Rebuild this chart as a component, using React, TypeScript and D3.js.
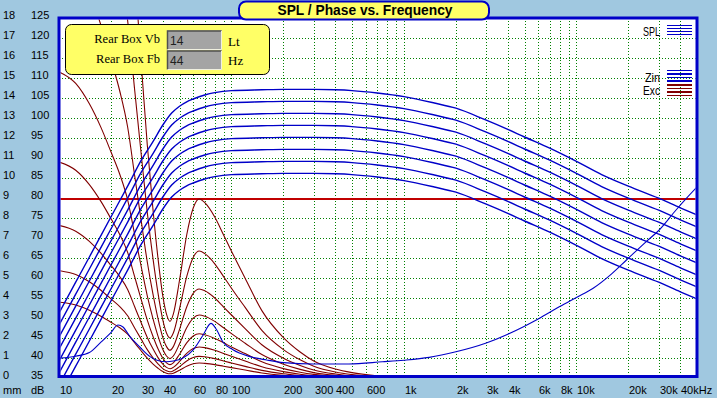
import React from 'react';
import * as d3 from 'd3';

// ---------- DATA ----------
const splFreq = [10, 12.5, 15, 20, 25, 30, 35, 40, 45, 50, 55, 60, 70, 80, 100, 150, 200, 300, 400, 500, 700, 1000, 1500, 2000, 3000, 4000, 5000, 7000, 10000, 14000, 20000, 30000, 40000, 50000];
const spl0 = [51.5, 59.2, 65.5, 75.5, 83.2, 89.7, 94.3, 98.5, 101.5, 103.2, 104.3, 105.0, 106.0, 106.6, 107.1, 107.3, 107.4, 107.4, 107.3, 107.1, 106.5, 105.6, 104.0, 102.7, 99.7, 97.4, 95.5, 92.7, 89.4, 86.1, 83.2, 80.2, 77.8, 76.0];
const spl1 = [48.5, 56.2, 62.5, 72.5, 80.2, 86.7, 91.3, 95.5, 98.5, 100.2, 101.3, 102.0, 103.0, 103.6, 104.1, 104.3, 104.4, 104.4, 104.3, 104.1, 103.5, 102.6, 101.0, 99.7, 96.7, 94.4, 92.5, 89.7, 86.4, 83.1, 80.2, 77.2, 74.8, 73.0];
const spl2 = [45.5, 53.2, 59.5, 69.5, 77.2, 83.7, 88.3, 92.5, 95.5, 97.2, 98.3, 99.0, 100.0, 100.6, 101.1, 101.3, 101.4, 101.4, 101.3, 101.1, 100.5, 99.6, 98.0, 96.7, 93.7, 91.4, 89.5, 86.7, 83.4, 80.1, 77.2, 74.2, 71.8, 70.0];
const spl3 = [42.5, 50.2, 56.5, 66.5, 74.2, 80.7, 85.3, 89.5, 92.5, 94.2, 95.3, 96.0, 97.0, 97.6, 98.1, 98.3, 98.4, 98.4, 98.3, 98.1, 97.5, 96.6, 95.0, 93.7, 90.7, 88.4, 86.5, 83.7, 80.4, 77.1, 74.2, 71.2, 68.8, 67.0];
const spl4 = [39.5, 47.2, 53.5, 63.5, 71.2, 77.7, 82.3, 86.5, 89.5, 91.2, 92.3, 93.0, 94.0, 94.6, 95.1, 95.3, 95.4, 95.4, 95.3, 95.1, 94.5, 93.6, 92.0, 90.7, 87.7, 85.4, 83.5, 80.7, 77.4, 74.1, 71.2, 68.2, 65.8, 64.0];
const spl5 = [36.5, 44.2, 50.5, 60.5, 68.2, 74.7, 79.3, 83.5, 86.5, 88.2, 89.3, 90.0, 91.0, 91.6, 92.1, 92.3, 92.4, 92.4, 92.3, 92.1, 91.5, 90.6, 89.0, 87.7, 84.7, 82.4, 80.5, 77.7, 74.4, 71.1, 68.2, 65.2, 62.8, 61.0];
const spl6 = [33.5, 41.2, 47.5, 57.5, 65.2, 71.7, 76.3, 80.5, 83.5, 85.2, 86.3, 87.0, 88.0, 88.6, 89.1, 89.3, 89.4, 89.4, 89.3, 89.1, 88.5, 87.6, 86.0, 84.7, 81.7, 79.4, 77.5, 74.7, 71.4, 68.1, 65.2, 62.2, 59.8, 58.0];
const spl7 = [30.5, 38.2, 44.5, 54.5, 62.2, 68.7, 73.3, 77.5, 80.5, 82.2, 83.3, 84.0, 85.0, 85.6, 86.1, 86.3, 86.4, 86.4, 86.3, 86.1, 85.5, 84.6, 83.0, 81.7, 78.7, 76.4, 74.5, 71.7, 68.4, 65.1, 62.2, 59.2, 56.8, 55.0];
const splSeries = [spl0, spl1, spl2, spl3, spl4, spl5, spl6, spl7];

const zinFreq = [10, 12.5, 15, 17.5, 20, 22, 23.5, 25.8, 29.4, 33.7, 37, 42, 46, 52, 60, 68.5, 76, 82, 89, 102, 128, 160, 200, 300, 480, 750, 1000, 1400, 2000, 3000, 4000, 5000, 6000, 8000, 10000, 12500, 16000, 19500, 25300, 30200, 37800, 43500, 50000];
const zinVal = [40.2, 40.7, 41.6, 44.2, 46.6, 48.5, 48.0, 45.6, 43.0, 40.6, 39.7, 39.3, 39.5, 40.2, 42.3, 46.0, 48.9, 47.3, 44.3, 42.3, 40.6, 39.75, 39.1, 38.75, 38.75, 39.3, 39.7, 40.4, 41.8, 44.0, 46.2, 48.2, 50.0, 53.1, 55.4, 57.7, 61.3, 64.75, 69.3, 72.25, 77.25, 80.2, 83.0];

// excursion in mm
const excFreq = [10, 12.5, 15, 17.5, 20, 22.5, 25, 27.5, 30, 32.5, 35, 37.5, 40, 42, 44, 46, 50, 55, 60, 65, 70, 80, 90, 100, 120, 150, 200, 250, 300, 400, 500, 700, 1000, 2000];
const exc0 = [3.84, 3.70, 3.44, 3.14, 2.84, 2.56, 2.24, 1.80, 1.40, 1.04, 0.76, 0.54, 0.37, 0.29, 0.26, 0.29, 0.44, 0.64, 0.76, 0.80, 0.78, 0.72, 0.64, 0.57, 0.45, 0.30, 0.18, 0.12, 0.08, 0.04, 0.03, 0.01, 0.01, 0.00];
const exc1 = [5.42, 5.22, 4.86, 4.44, 4.01, 3.62, 3.16, 2.54, 1.98, 1.47, 1.07, 0.76, 0.52, 0.41, 0.36, 0.41, 0.62, 0.90, 1.07, 1.13, 1.11, 1.02, 0.90, 0.80, 0.63, 0.43, 0.26, 0.17, 0.11, 0.06, 0.04, 0.02, 0.01, 0.00];
const exc2 = [7.68, 7.39, 6.88, 6.29, 5.68, 5.12, 4.48, 3.60, 2.80, 2.08, 1.52, 1.07, 0.74, 0.58, 0.51, 0.58, 0.88, 1.28, 1.52, 1.60, 1.57, 1.44, 1.28, 1.14, 0.90, 0.61, 0.37, 0.24, 0.16, 0.09, 0.06, 0.03, 0.01, 0.00];
const exc3 = [10.85, 10.44, 9.72, 8.88, 8.02, 7.23, 6.33, 5.09, 3.96, 2.94, 2.15, 1.51, 1.04, 0.81, 0.72, 0.81, 1.24, 1.81, 2.15, 2.26, 2.21, 2.03, 1.81, 1.60, 1.27, 0.86, 0.52, 0.34, 0.23, 0.12, 0.08, 0.04, 0.02, 0.00];
const exc4 = [15.36, 14.78, 13.76, 12.58, 11.36, 10.24, 8.96, 7.20, 5.60, 4.16, 3.04, 2.14, 1.47, 1.15, 1.02, 1.15, 1.76, 2.56, 3.04, 3.20, 3.14, 2.88, 2.56, 2.27, 1.79, 1.22, 0.74, 0.48, 0.32, 0.18, 0.11, 0.06, 0.03, 0.01];
const exc5 = [21.6, 20.79, 19.35, 17.69, 15.98, 14.4, 12.6, 10.13, 7.88, 5.85, 4.28, 3.02, 2.07, 1.62, 1.44, 1.62, 2.48, 3.6, 4.28, 4.5, 4.41, 4.05, 3.6, 3.2, 2.52, 1.71, 1.04, 0.68, 0.45, 0.25, 0.16, 0.08, 0.04, 0.01];
const exc6 = [30.72, 29.57, 27.52, 25.15, 22.72, 20.48, 17.92, 14.4, 11.2, 8.32, 6.08, 4.29, 2.94, 2.30, 2.05, 2.30, 3.52, 5.12, 6.08, 6.4, 6.27, 5.76, 5.12, 4.54, 3.58, 2.43, 1.47, 0.96, 0.64, 0.35, 0.22, 0.12, 0.06, 0.01];
const exc7 = [43.2, 41.58, 38.7, 35.37, 31.95, 28.8, 25.2, 20.25, 15.75, 11.7, 8.55, 6.03, 4.14, 3.24, 2.88, 3.24, 4.95, 7.2, 8.55, 9.0, 8.82, 8.1, 7.2, 6.39, 5.04, 3.42, 2.07, 1.35, 0.9, 0.5, 0.32, 0.16, 0.08, 0.02];
const excSeries = [exc0, exc1, exc2, exc3, exc4, exc5, exc6, exc7];

const xmaxMm = 9; // red horizontal line

const gridFreqs = [20, 30, 40, 50, 60, 70, 80, 90, 100, 200, 300, 400, 500, 600, 700, 800, 900, 1000, 2000, 3000, 4000, 5000, 6000, 7000, 8000, 9000, 10000, 20000, 30000, 40000];
const xLabelFreqs = [10, 20, 30, 40, 60, 80, 100, 200, 300, 400, 600, 1000, 2000, 3000, 4000, 6000, 8000, 10000, 20000, 30000, 40000];
const xLabelTexts = ['10', '20', '30', '40', '60', '80', '100', '200', '300', '400', '600', '1k', '2k', '3k', '4k', '6k', '8k', '10k', '20k', '30k', '40kHz'];
const dbTicks = [35, 40, 45, 50, 55, 60, 65, 70, 75, 80, 85, 90, 95, 100, 105, 110, 115, 120, 125];
const mmTicks = [0, 1, 2, 3, 4, 5, 6, 7, 8, 9, 10, 11, 12, 13, 14, 15, 16, 17, 18];

const title = 'SPL / Phase vs. Frequency';
const boxLabels = ['Rear Box Vb', 'Rear Box Fb'];
const boxValues = ['14', '44'];
const boxUnits = ['Lt', 'Hz'];

// ---------- STYLE ----------
const BG = '#A0C8E0';
const BLUE = '#0000C8';
const DARKRED = '#800000';
const GREEN = '#008000';
const YELLOW = '#FFFF66';
const SANS = 'Liberation Sans, Arial, sans-serif';
const SERIF = 'Liberation Serif, Times New Roman, serif';

export default function App() {
  const L = 59, R = 697, T = 18, B = 376.5;
  const x = d3.scaleLog().domain([10, 50000]).range([L, R]);
  const y = d3.scaleLinear().domain([35, 125]).range([379, 19]);
  const ymm = d3.scaleLinear().domain([0, 18]).range([379, 19]);

  const mkLine = (fs: number[], sc: (v: number) => number) =>
    d3.line<number>().x((_, i) => x(fs[i])).y((d) => sc(d)).curve(d3.curveMonotoneX);

  const splLine = mkLine(splFreq, y);
  const zinLine = mkLine(zinFreq, y);
  const excLine = mkLine(excFreq, ymm);

  const px = (v: number) => Math.round(v) + 0.5;

  const legendSpl = [25.5, 28.5, 31.5, 34.5];
  const legendZin = [70.5, 74, 77.5, 81];
  const legendExc = [85, 88.5, 92, 95.5];

  return (
    <svg width={717} height={398} style={{ position: 'absolute', left: 0, top: 0, display: 'block' }}>
      <defs>
        <clipPath id="plotclip">
          <rect x={L + 1.5} y={T + 1.5} width={R - L - 3} height={B - T - 3} />
        </clipPath>
      </defs>
      <rect x={0} y={0} width={717} height={398} fill={BG} />
      <rect x={L} y={T} width={R - L} height={B - T} fill="#FFFFFF" />

      {/* grid */}
      <g clipPath="url(#plotclip)" shapeRendering="crispEdges">
        {gridFreqs.map((f) => (
          <line key={'v' + f} x1={px(x(f))} x2={px(x(f))} y1={T} y2={B} stroke={GREEN} strokeWidth={1} strokeDasharray="1,2" />
        ))}
        {dbTicks.filter((d) => d !== 80).map((d) => (
          <line key={'h' + d} x1={L} x2={R} y1={px(y(d)) - 1} y2={px(y(d)) - 1} stroke={GREEN} strokeWidth={1} strokeDasharray="1,2" />
        ))}
        <line x1={L} x2={R} y1={ymm(xmaxMm)} y2={ymm(xmaxMm)} stroke="#C00000" strokeWidth={1.6} />
      </g>

      {/* curves */}
      <g clipPath="url(#plotclip)" fill="none">
        {excSeries.map((s, i) => (
          <path key={'e' + i} d={excLine(s) || ''} stroke={DARKRED} strokeWidth={1.1} />
        ))}
        {splSeries.map((s, i) => (
          <path key={'s' + i} d={splLine(s) || ''} stroke={BLUE} strokeWidth={1.4} />
        ))}
        <path d={zinLine(zinVal) || ''} stroke={BLUE} strokeWidth={1.1} />
      </g>

      {/* border */}
      <rect x={L} y={T} width={R - L} height={B - T} fill="none" stroke={BLUE} strokeWidth={3} />

      {/* axis labels */}
      <g fontFamily={SANS} fontSize={11} fill="#000">
        {dbTicks.map((d) => (
          <text key={'dl' + d} x={31} y={y(d)}>{d}</text>
        ))}
        {mmTicks.map((m) => (
          <text key={'ml' + m} x={3} y={ymm(m)}>{m}</text>
        ))}
        <text x={3} y={394}>mm</text>
        <text x={31} y={394}>dB</text>
        {xLabelFreqs.map((f, i) => (
          <text key={'xl' + f} x={Math.round(x(f)) + 1} y={394}>{xLabelTexts[i]}</text>
        ))}
      </g>

      {/* legend */}
      <g fontFamily={SANS} fontSize={12} fill="#000" textAnchor="end">
        <text x={660} y={36} textLength={17} lengthAdjust="spacingAndGlyphs">SPL</text>
        <text x={660} y={81.5} textLength={15} lengthAdjust="spacingAndGlyphs">Zin</text>
        <text x={660} y={95} textLength={17} lengthAdjust="spacingAndGlyphs">Exc</text>
      </g>
      <g shapeRendering="crispEdges">
        {legendSpl.map((yy, i) => <line key={'ls' + i} x1={667} x2={692} y1={yy} y2={yy} stroke={BLUE} strokeWidth={1.3} />)}
        {legendZin.map((yy, i) => <line key={'lz' + i} x1={667} x2={692} y1={yy} y2={yy} stroke={BLUE} strokeWidth={1.3} />)}
        {legendExc.map((yy, i) => <line key={'le' + i} x1={667} x2={692} y1={yy} y2={yy} stroke={DARKRED} strokeWidth={1.3} />)}
      </g>

      {/* info box */}
      <rect x={65.5} y={24.5} width={204} height={50} rx={6} ry={6} fill={YELLOW} stroke="#000" strokeWidth={1} />
      {boxLabels.map((t, i) => (
        <g key={'bx' + i}>
          <text x={160} y={43 + i * 20} textAnchor="end" fontFamily={SERIF} fontSize={12.5} fill="#000">{t}</text>
          <rect x={167} y={30.5 + i * 20} width={55} height={19} fill="#A4A4A4" />
          <path d={`M${167.5},${49.5 + i * 20} V${30.5 + i * 20 + 0.5} H${221.5}`} fill="none" stroke="#505050" strokeWidth={1.5} />
          <path d={`M${167.5},${49.5 + i * 20} H${221.5} V${30.5 + i * 20 + 0.5}`} fill="none" stroke="#F0F0E0" strokeWidth={1} />
          <text x={170} y={45 + i * 20} fontFamily={SANS} fontSize={12} fill="#202020">{boxValues[i]}</text>
          <text x={228} y={46 + i * 19} fontFamily={SERIF} fontSize={13} fill="#000">{boxUnits[i]}</text>
        </g>
      ))}

      {/* title */}
      <rect x={239} y={1.5} width={250} height={18} rx={7} ry={7} fill={YELLOW} stroke={BLUE} strokeWidth={2} />
      <text x={365} y={15} textAnchor="middle" fontFamily={SANS} fontWeight="bold" fontSize={14} fill="#000" textLength={175} lengthAdjust="spacingAndGlyphs">{title}</text>
    </svg>
  );
}
